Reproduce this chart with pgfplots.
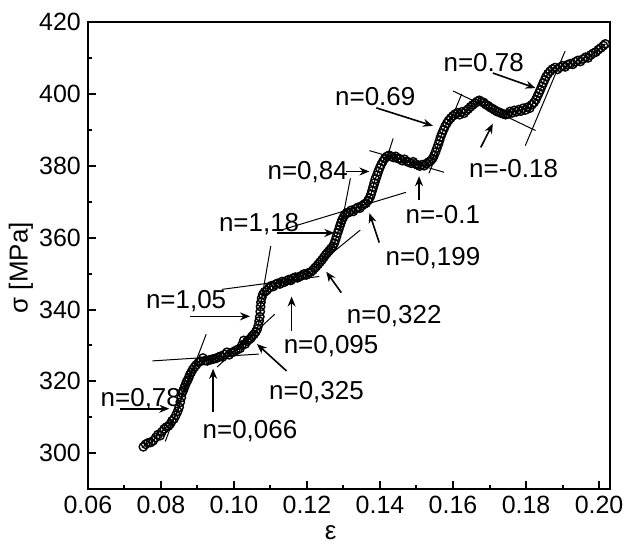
\documentclass[border=0pt]{standalone}
\usepackage{fontspec}
\setmainfont{Liberation Sans}
\usepackage{pgfplots}
\pgfplotsset{compat=1.18}
\usetikzlibrary{arrows.meta}
\pgfplotstableread{
x y
0.0752 301.8
0.0758 302.5
0.0765 302.9
0.0772 303.0
0.0779 303.5
0.0786 304.4
0.0792 305.2
0.0798 304.9
0.0803 306.0
0.0809 306.8
0.0815 307.3
0.0821 307.6
0.0826 308.2
0.0830 309.0
0.0836 309.6
0.0841 310.6
0.0846 311.7
0.0850 312.8
0.0853 314.2
0.0856 315.5
0.0858 316.8
0.0861 317.4
0.0864 318.2
0.0867 319.0
0.0870 319.8
0.0873 320.3
0.0876 321.0
0.0879 321.8
0.0883 322.5
0.0887 323.3
0.0892 324.0
0.0897 324.6
0.0903 325.3
0.0909 325.6
0.0915 326.5
0.0921 325.8
0.0927 325.7
0.0933 326.0
0.0939 326.1
0.0945 326.3
0.0951 326.4
0.0957 326.7
0.0963 327.0
0.0969 326.8
0.0975 327.5
0.0981 328.1
0.0987 327.4
0.0993 328.0
0.0999 328.2
0.1005 328.6
0.1011 328.9
0.1017 329.2
0.1022 330.1
0.1027 331.4
0.1031 330.4
0.1036 331.2
0.1041 331.6
0.1046 332.0
0.1050 332.6
0.1055 333.1
0.1060 333.8
0.1064 334.6
0.1067 335.6
0.1069 336.8
0.1071 338.0
0.1072 339.4
0.1073 340.8
0.1074 342.0
0.1076 343.2
0.1079 344.2
0.1084 344.9
0.1090 345.3
0.1096 346.0
0.1102 346.6
0.1108 346.4
0.1114 347.0
0.1120 347.3
0.1126 347.1
0.1132 347.8
0.1138 347.6
0.1144 348.0
0.1150 348.3
0.1156 348.1
0.1162 348.7
0.1168 349.0
0.1174 348.8
0.1180 349.2
0.1186 349.4
0.1192 349.9
0.1198 349.6
0.1204 350.2
0.1210 350.4
0.1216 350.9
0.1221 351.5
0.1226 352.0
0.1231 352.6
0.1236 353.2
0.1241 353.8
0.1246 354.5
0.1251 355.2
0.1256 355.8
0.1261 356.4
0.1266 357.0
0.1271 357.6
0.1275 358.4
0.1278 359.3
0.1281 360.3
0.1284 361.3
0.1287 362.2
0.1290 363.2
0.1293 364.1
0.1296 364.9
0.1300 365.7
0.1304 366.4
0.1309 366.9
0.1315 367.0
0.1321 367.6
0.1327 367.3
0.1333 368.0
0.1339 368.4
0.1345 368.2
0.1351 368.9
0.1357 369.3
0.1362 369.6
0.1367 370.3
0.1371 371.0
0.1375 372.0
0.1378 373.0
0.1381 374.1
0.1384 375.2
0.1387 376.3
0.1391 377.3
0.1395 378.4
0.1399 379.4
0.1403 380.3
0.1408 381.2
0.1413 382.0
0.1419 382.6
0.1425 382.9
0.1431 382.6
0.1437 382.3
0.1443 382.6
0.1449 382.0
0.1455 381.9
0.1461 381.4
0.1467 381.8
0.1473 381.2
0.1479 381.0
0.1485 380.7
0.1491 381.1
0.1497 380.5
0.1503 380.2
0.1509 379.9
0.1515 380.3
0.1521 380.0
0.1527 380.6
0.1533 381.0
0.1539 381.4
0.1544 382.0
0.1548 382.8
0.1552 383.8
0.1556 384.9
0.1560 386.0
0.1563 387.0
0.1566 388.0
0.1570 389.0
0.1574 390.0
0.1578 390.9
0.1583 391.8
0.1588 392.6
0.1594 393.3
0.1600 393.9
0.1606 394.4
0.1612 394.7
0.1618 394.2
0.1624 395.0
0.1630 394.6
0.1636 395.3
0.1642 395.8
0.1648 396.4
0.1654 396.9
0.1660 397.4
0.1666 397.9
0.1672 398.2
0.1678 397.8
0.1684 397.6
0.1690 397.0
0.1696 396.7
0.1702 396.2
0.1708 395.9
0.1714 395.5
0.1720 395.1
0.1726 394.9
0.1732 394.6
0.1738 394.4
0.1744 394.2
0.1750 394.4
0.1756 395.1
0.1762 394.7
0.1768 395.4
0.1774 395.0
0.1780 395.6
0.1786 395.2
0.1792 396.0
0.1798 395.5
0.1804 396.3
0.1810 396.0
0.1816 397.0
0.1822 397.6
0.1827 398.4
0.1831 399.3
0.1835 400.2
0.1839 401.1
0.1843 402.1
0.1847 403.0
0.1851 403.9
0.1855 404.8
0.1860 405.6
0.1866 406.3
0.1872 406.9
0.1879 407.3
0.1886 406.8
0.1893 407.4
0.1900 407.8
0.1907 407.5
0.1914 408.1
0.1921 408.4
0.1928 408.2
0.1935 408.9
0.1942 409.3
0.1949 409.0
0.1956 409.7
0.1963 410.2
0.1970 410.0
0.1977 410.8
0.1984 411.3
0.1991 411.6
0.1998 412.3
0.2005 412.8
0.2012 413.4
0.2017 413.9
}\datatable
\newcommand{\annfont}{\fontsize{13}{15}\selectfont}
\begin{document}
\begin{tikzpicture}
\begin{axis}[name=ax, scale only axis, width=261.5pt, height=234pt,
  xmin=0.06, xmax=0.203, ymin=290, ymax=420,
  xtick={0.06,0.08,0.10,0.12,0.14,0.16,0.18,0.20},
  xticklabels={0.06,0.08,0.10,0.12,0.14,0.16,0.18,0.20},
  ytick={300,320,340,360,380,400,420},
  yticklabels={300,320,340,360,380,400,420},
  minor x tick num=1, minor y tick num=1,
  tick align=inside, xtick pos=bottom, ytick pos=left,
  major tick length=4pt, minor tick length=2.2pt,
  axis line style={line width=1.2pt},
  every tick/.style={line width=1pt, black},
  /pgf/number format/assume math mode=true,
  ticklabel style={font=\fontsize{12.5}{14}\selectfont},
  xlabel={ε}, ylabel={σ [MPa]},
  label style={font=\fontsize{13}{15}\selectfont},
  xlabel style={at={(axis description cs:0.465,-0.094)}, anchor=center},
  ylabel style={at={(axis description cs:-0.128,0.474)}, anchor=center},
]
% tangent lines
\addplot[black, line width=0.5pt] coordinates {(0.0812,303.3) (0.0924,333.1)};
\addplot[black, line width=0.5pt] coordinates {(0.0777,325.7) (0.1068,327.6)};
\addplot[black, line width=0.5pt] coordinates {(0.0954,324.0) (0.1112,338.7)};
\addplot[black, line width=0.5pt] coordinates {(0.1071,340.0) (0.1101,357.7)};
\addplot[black, line width=0.5pt] coordinates {(0.0967,345.6) (0.1234,349.2)};
\addplot[black, line width=0.5pt] coordinates {(0.1240,353.3) (0.1346,362.1)};
\addplot[black, line width=0.5pt] coordinates {(0.1289,360.8) (0.1319,376.5)};
\addplot[black, line width=0.5pt] coordinates {(0.1123,361.9) (0.1471,372.6)};
\addplot[black, line width=0.5pt] coordinates {(0.1382,370.4) (0.1436,387.6)};
\addplot[black, line width=0.5pt] coordinates {(0.1371,384.2) (0.1575,378.2)};
\addplot[black, line width=0.5pt] coordinates {(0.1534,377.9) (0.1624,400.0)};
\addplot[black, line width=0.5pt] coordinates {(0.1600,400.8) (0.1826,389.8)};
\addplot[black, line width=0.5pt] coordinates {(0.1798,385.6) (0.1907,411.9)};
% data
\addplot[black, line width=0.6pt, mark=o, mark size=2.1pt,
  mark options={solid, line width=0.7pt, fill=white}] table[x=x,y=y] {\datatable};
% arrows
\tikzset{arr/.style={-{Stealth[length=5pt,width=4pt]}, line width=0.8pt}}
\draw[arr] (axis cs:0.0689,312.4) -- (axis cs:0.0823,312.4);
\draw[arr] (axis cs:0.0943,311.6) -- (axis cs:0.0943,323.5);
\draw[arr] (axis cs:0.0880,338.1) -- (axis cs:0.1044,338.1);
\draw[arr] (axis cs:0.1144,322.9) -- (axis cs:0.1063,330.4);
\draw[arr] (axis cs:0.1158,334.0) -- (axis cs:0.1158,343.6);
\draw[arr] (axis cs:0.1294,344.7) -- (axis cs:0.1253,350.5);
\draw[arr] (axis cs:0.1117,361.3) -- (axis cs:0.1275,361.3);
\draw[arr] (axis cs:0.1398,358.6) -- (axis cs:0.1371,366.8);
\draw[arr] (axis cs:0.1308,378.4) -- (axis cs:0.1371,378.4);
\draw[arr] (axis cs:0.1507,370.4) -- (axis cs:0.1507,377.1);
\draw[arr] (axis cs:0.1390,396.1) -- (axis cs:0.1545,391.1);
\draw[arr] (axis cs:0.1676,385.1) -- (axis cs:0.1709,391.7);
\draw[arr] (axis cs:0.1709,405.8) -- (axis cs:0.1826,401.6);
% labels
\node[font=\annfont] at (axis cs:0.0745,315.2) {n=0,78};
\node[font=\annfont] at (axis cs:0.1044,306.1) {n=0,066};
\node[font=\annfont] at (axis cs:0.0869,342.3) {n=1,05};
\node[font=\annfont] at (axis cs:0.1226,317.1) {n=0,325};
\node[font=\annfont] at (axis cs:0.1266,329.8) {n=0,095};
\node[font=\annfont] at (axis cs:0.1439,338.1) {n=0,322};
\node[font=\annfont] at (axis cs:0.1069,363.8) {n=1,18};
\node[font=\annfont] at (axis cs:0.1545,354.4) {n=0,199};
\node[font=\annfont] at (axis cs:0.1202,378.2) {n=0,84};
\node[font=\annfont] at (axis cs:0.1572,366.3) {n=-0.1};
\node[font=\annfont] at (axis cs:0.1766,379.3) {n=-0.18};
\node[font=\annfont] at (axis cs:0.1387,399.2) {n=0.69};
\node[font=\annfont] at (axis cs:0.1684,408.8) {n=0.78};
\end{axis}
\pgfresetboundingbox
\useasboundingbox ([shift={(-44pt,-28pt)}]ax.south west) rectangle ([shift={(8pt,11pt)}]ax.north east);
\end{tikzpicture}
\end{document}
